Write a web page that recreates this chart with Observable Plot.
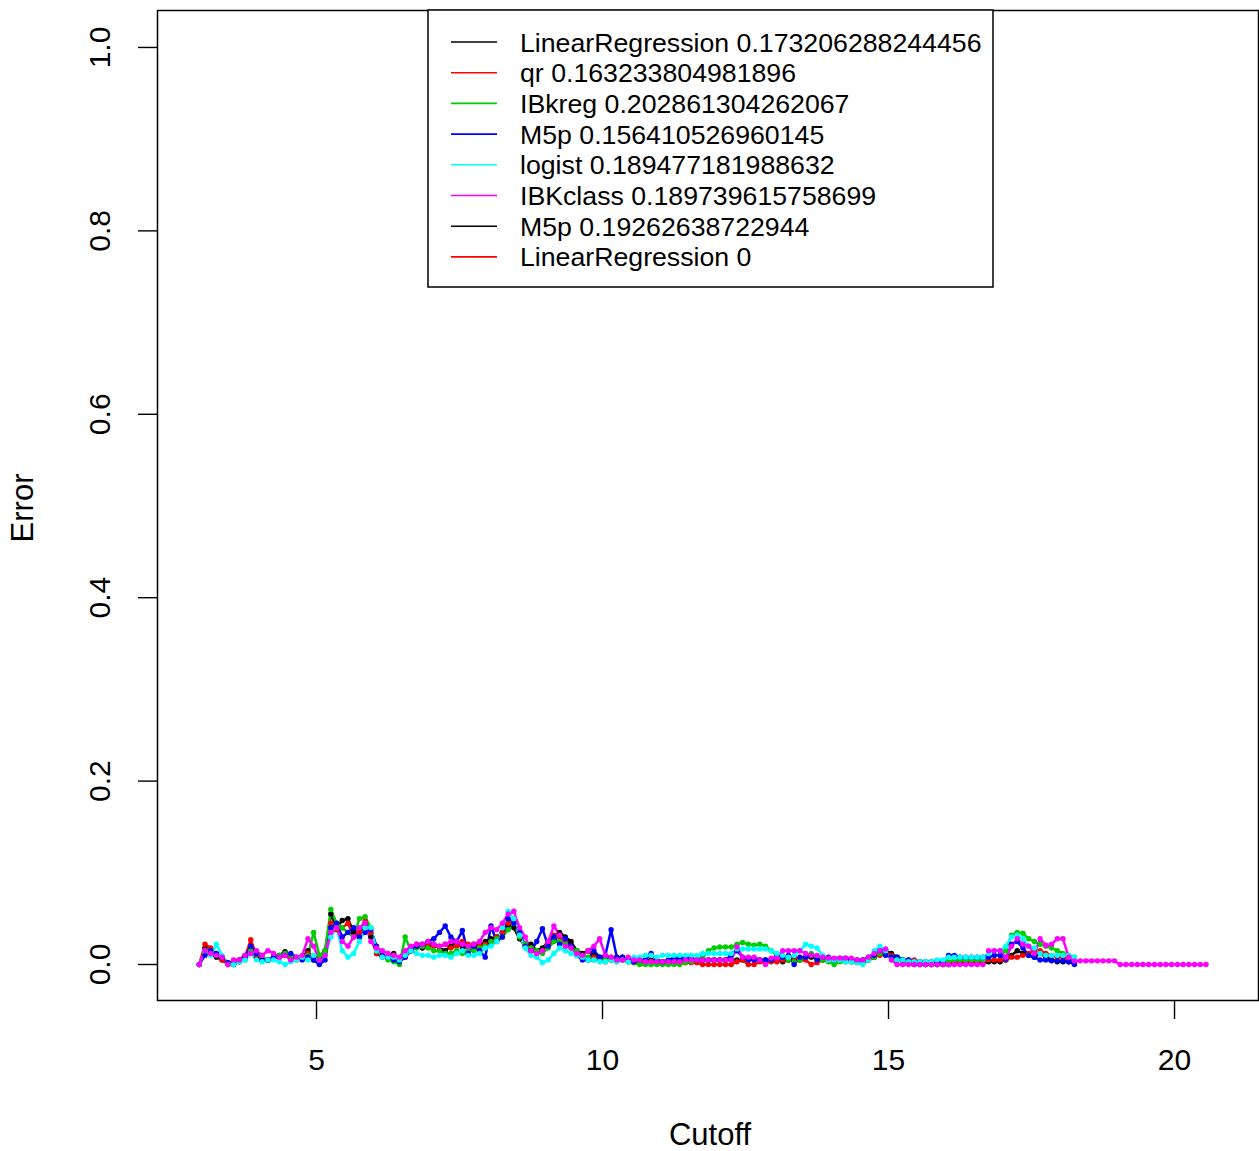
<!DOCTYPE html>
<html><head><meta charset="utf-8">
<script src="https://cdn.jsdelivr.net/npm/d3@7"></script>
<script src="https://cdn.jsdelivr.net/npm/@observablehq/plot@0.6"></script>
<style>body{margin:0;background:#fff;font-family:"Liberation Sans",Arial,sans-serif}</style>
</head><body><div id="chart"></div>
<script>
// Cutoff grid (regular grid of cutoff values)
const cutoffStart = 2.95, cutoffStep = 0.1;
const errScale = 1000; // values below are in thousandths of Error

const errLinearRegression = [
0,18,12,8,5,2,3,5,10,15, 8,5,5,7,10,14,8,6,8,15, 5,8,15,55,40,48,50,35,30,45,
30,12,10,8,12,5,10,15,20,18, 20,22,18,15,20,25,18,20,22,20, 25,28,30,35,43,40,28,20,22,15,
18,25,30,35,30,25,15,12,15,10, 8,5,8,5,8,4,3,3,5,5, 4,3,3,3,5,5,5,5,5,5,
5,5,5,5,5,5,6,6,5,5, 5,5,3,5,5,5,8,8,7,5, 6,6,5,5,5,3,3,5,8,12,
15,12,8,5,2,0,0,0,0,0, 0,0,2,2,2,2,2,2,3,3, 3,5,10,15,12,10,8,12,8,5, 3,3,3,2];
const errQr = [
0,22,18,10,5,0,0,5,8,27, 10,5,5,8,8,10,8,5,8,12, 8,5,10,45,38,40,45,30,35,48,
35,12,8,8,10,5,8,15,22,20, 22,20,20,22,18,20,25,22,18,20, 22,25,30,35,45,48,30,22,18,12,
15,22,32,30,25,20,12,10,15,8, 5,3,5,8,5,3,2,2,3,3, 2,2,2,2,2,2,2,2,0,0,
0,0,0,0,3,5,0,0,3,2, 3,3,5,5,8,5,5,0,2,5, 5,5,5,5,3,3,5,5,8,10,
12,10,5,5,5,5,3,0,0,0, 0,0,2,2,2,2,2,2,5,5, 5,5,8,8,10,12,15,15,12,10, 8,8,5,3];
const errIBkreg = [
0,12,15,10,8,2,0,3,5,15, 12,8,5,8,10,12,10,8,8,10, 35,10,15,60,45,40,35,30,50,52,
40,15,10,5,3,0,30,15,18,20, 18,15,15,12,12,15,12,15,15,18, 20,25,28,30,38,45,30,22,18,15,
12,18,25,25,22,18,15,10,8,5, 5,5,5,3,5,3,2,0,0,0, 0,0,0,0,0,2,3,5,8,15,
18,19,19,19,22,24,22,21,22,20, 15,10,8,5,3,5,8,12,8,5, 3,0,3,3,3,2,2,5,8,12,
10,8,5,3,2,2,0,0,0,0, 3,3,5,5,5,5,5,5,8,10, 10,15,32,35,34,28,25,22,20,18, 15,12,10,8];
const errM5p = [
0,10,15,12,8,2,0,3,8,20, 12,5,5,8,8,10,12,8,5,8, 5,0,5,40,45,30,35,40,30,35,
38,20,10,8,5,3,8,15,20,22, 25,28,35,42,30,25,37,12,20,15, 8,42,25,30,50,45,35,20,15,25,
39,20,30,22,28,20,10,5,5,15, 8,10,38,8,8,5,3,5,5,12, 5,3,5,7,7,7,7,5,5,5,
5,5,5,10,15,8,5,5,5,5, 5,10,8,10,0,8,8,10,5,8, 8,5,7,7,5,5,5,8,10,15,
10,8,8,5,5,3,3,3,3,3, 3,10,10,8,8,8,8,8,8,10, 10,6,22,25,18,10,8,5,5,4, 4,4,3,0];
const errLogist = [
0,15,10,22,10,0,0,3,5,12, 5,3,5,5,3,0,3,5,8,5, 10,5,10,30,40,15,8,12,25,40,
40,15,8,8,8,5,10,15,12,10, 10,8,10,10,8,12,15,10,10,12, 18,20,25,40,58,50,32,18,10,8,
2,5,12,18,15,12,10,8,5,5, 3,3,5,3,5,3,8,8,10,10, 8,10,10,10,10,10,10,10,12,12,
12,12,12,12,17,17,17,17,17,17, 15,12,10,8,10,15,22,20,18,10, 5,5,5,3,3,2,0,5,15,20,
15,5,5,5,3,3,3,3,3,5, 5,8,8,8,8,8,8,8,12,15, 15,20,30,32,28,20,18,12,10,10, 10,10,10,8];
const errIBKclass = [
0,15,12,10,8,0,5,5,10,12, 15,10,15,12,8,10,5,8,10,28, 20,5,10,35,40,25,20,30,40,45,
25,18,15,12,10,8,15,20,22,22, 25,22,20,22,25,25,22,20,22,25, 35,40,38,45,55,58,40,30,15,12,
15,25,42,32,20,18,12,10,15,20, 28,10,8,5,5,8,5,5,3,3, 3,3,3,3,3,5,5,5,5,5,
5,5,5,5,19,8,8,8,5,0, 7,7,15,15,15,15,12,10,10,8, 7,7,7,7,7,5,5,8,12,15,
17,5,0,0,0,0,0,0,0,0, 0,0,0,0,0,0,0,0,15,15, 15,8,20,28,22,20,12,28,21,22,
28,28,8,4,4,4,4,4,4,4, 4,0,0,0,0,0,0,0,0,0, 0,0,0,0,0,0,0];

const seriesNames = ["LinearRegression","qr","IBkreg","M5p","logist","IBKclass"];
const seriesValues = [errLinearRegression, errQr, errIBkreg, errM5p, errLogist, errIBKclass];
const seriesColors = ["#000000","#FF0000","#00CD00","#0000FF","#00FFFF","#FF00FF"];

const legendLabels = ["LinearRegression 0.173206288244456","qr 0.163233804981896","IBkreg 0.202861304262067",
 "M5p 0.156410526960145","logist 0.189477181988632","IBKclass 0.189739615758699","M5p 0.19262638722944","LinearRegression 0"];
const legendColors = ["#000000","#FF0000","#00CD00","#0000FF","#00FFFF","#FF00FF","#000000","#FF0000"];

const xTicks = [5,10,15,20];
const yTicks = [0,0.2,0.4,0.6,0.8,1.0];

const data = [];
seriesValues.forEach((vals, s) => vals.forEach((v, i) => data.push({
  series: seriesNames[s], idx: s, cutoff: +(cutoffStart + i*cutoffStep).toFixed(2), error: v/errScale })));

const W = 1259, H = 1151;
const font = `"Liberation Sans", Arial, sans-serif`;
const chart = Plot.plot({
  width: W, height: H,
  marginLeft: 157, marginRight: 1, marginTop: 10, marginBottom: 151,
  style: {fontFamily: font, fontSize: "30px", color: "black", background: "white"},
  x: {domain: [2.2203, 21.468]},
  y: {domain: [-0.03926, 1.0403]},
  color: {domain: d3.range(seriesNames.length), range: seriesColors},
  marks: [
    Plot.axisX({ticks: xTicks, tickSize: 19, tickPadding: 29, fontSize: 30, label: null, strokeWidth: 1.4}),
    Plot.axisY({ticks: yTicks, tickFormat: d3.format(".1f"), tickSize: 19, tickPadding: 29, tickRotate: -90, fontSize: 30, label: null, strokeWidth: 1.4}),
    Plot.line(data, {x: "cutoff", y: "error", z: "series", stroke: d => d.idx, strokeWidth: 2.5}),
    Plot.dot(data, {x: "cutoff", y: "error", fill: d => d.idx, r: 2.7, stroke: null}),
    Plot.frame({stroke: "black", strokeWidth: 1.5})
  ]
});
document.getElementById("chart").appendChild(chart);

const svg = d3.select(chart);
svg.append("text").attr("x", 710).attr("y", 1145).attr("text-anchor", "middle")
  .attr("font-size", 31).attr("font-family", font).text("Cutoff");
svg.append("text").attr("transform", "translate(33,508) rotate(-90)").attr("text-anchor", "middle")
  .attr("font-size", 31).attr("font-family", font).text("Error");

const lg = svg.append("g").attr("text-anchor", "start");
lg.append("rect").attr("x", 428).attr("y", 10).attr("width", 565).attr("height", 277)
  .attr("fill", "white").attr("stroke", "black").attr("stroke-width", 1.5);
legendLabels.forEach((lab, k) => {
  const yy = 42 + 30.7*k;
  lg.append("line").attr("x1", 451).attr("x2", 497).attr("y1", yy).attr("y2", yy)
    .attr("stroke", legendColors[k]).attr("stroke-width", 1.6);
  lg.append("text").attr("x", 520).attr("y", yy + 9.5).attr("font-size", 26.7)
    .attr("text-anchor", "start").attr("font-family", font).text(lab);
});
</script></body></html>
